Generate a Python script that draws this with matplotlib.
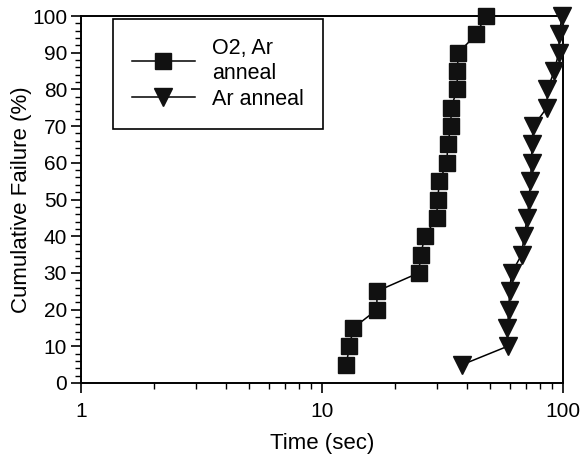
import matplotlib.pyplot as plt
from matplotlib.ticker import FixedLocator, MultipleLocator, LogLocator, NullFormatter

plt.rcParams['font.family'] = ['Liberation Sans', 'DejaVu Sans']

# cumulative failure levels (%)
pct = [5, 10, 15, 20, 25, 30, 35, 40, 45, 50,
       55, 60, 65, 70, 75, 80, 85, 90, 95, 100]

# time to failure (sec), O2 + Ar anneal
t_o2_ar = [12.6, 13.0, 13.5, 16.9, 16.9, 25.2, 25.7, 26.7, 29.9, 30.2,
           30.7, 33.0, 33.2, 34.3, 34.3, 36.4, 36.4, 36.8, 43.7, 47.7]

# time to failure (sec), Ar anneal only
t_ar = [38.2, 58.9, 58.8, 59.6, 60.0, 61.2, 67.4, 68.9, 71.1, 72.5,
        73.0, 74.2, 74.2, 75.4, 85.7, 86.2, 92.0, 96.0, 96.6, 99.0]

fig = plt.figure(figsize=(5.82, 4.55), dpi=100)
ax = fig.add_axes([81 / 582, 1 - 383 / 455, (563 - 81) / 582, (383 - 16) / 455])

ax.plot(t_o2_ar, pct, color='black', lw=1.1, marker='s', ms=11,
        mfc='#111111', mec='#111111', label='O2, Ar\nanneal', clip_on=False, zorder=3)
ax.plot(t_ar, pct, color='black', lw=1.1, marker='v', ms=12.5,
        mfc='#111111', mec='#111111', label='Ar anneal', clip_on=False, zorder=3)

ax.set_xscale('log')
ax.set_xlim(1, 100)
ax.set_ylim(0, 100)
ax.xaxis.set_major_locator(FixedLocator([1, 10, 100]))
ax.xaxis.set_major_formatter(plt.FixedFormatter(['1', '10', '100']))
ax.xaxis.set_minor_locator(LogLocator(base=10, subs=range(2, 10)))
ax.xaxis.set_minor_formatter(NullFormatter())
ax.yaxis.set_major_locator(MultipleLocator(10))
ax.yaxis.set_minor_locator(MultipleLocator(2))

ax.tick_params(which='major', direction='out', length=7, width=1.2, labelsize=15)
ax.tick_params(which='minor', direction='out', length=4, width=1)
ax.tick_params(axis='x', which='major', pad=7)
ax.tick_params(axis='y', which='major', pad=3)
for s in ax.spines.values():
    s.set_linewidth(1.4)

ax.set_xlabel('Time (sec)', fontsize=16, labelpad=8)
ax.set_ylabel('Cumulative Failure (%)', fontsize=16, labelpad=0)

leg = ax.legend(loc='upper left', bbox_to_anchor=(0.066, 0.992), borderaxespad=0,
                fontsize=15.5, handlelength=2.9, fancybox=False, edgecolor='black',
                framealpha=1, borderpad=0.9, labelspacing=0.25, handletextpad=0.8)
leg.get_frame().set_linewidth(1.2)

fig.savefig('out.png', dpi=100)
